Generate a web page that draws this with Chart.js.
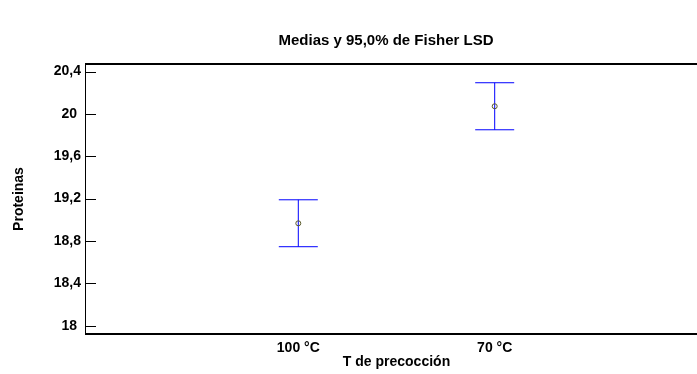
<!DOCTYPE html>
<html>
<head>
<meta charset="utf-8">
<script src="https://cdn.jsdelivr.net/npm/chart.js@4.4.1/dist/chart.umd.min.js"></script>
<style>
  html, body { margin: 0; padding: 0; background: #fff; overflow: hidden; }
  #wrap { width: 720px; height: 374px; }
</style>
</head>
<body>
<div id="wrap"><canvas id="c" width="720" height="374"></canvas></div>
<script>
// Group means with 95% Fisher LSD intervals
const groups = ['100 °C', '70 °C'];
const means = [18.967, 20.072];
const lower = [18.746, 19.850];
const upper = [19.189, 20.294];
const yTicks = [18, 18.4, 18.8, 19.2, 19.6, 20, 20.4];
const yTickLabels = ['18', '18,4', '18,8', '19,2', '19,6', '20', '20,4'];

const titleText = 'Medias y 95,0% de Fisher LSD';
const xTitle = 'T de precocción';
const yTitle = 'Proteinas';

const FONT = '"Liberation Sans", Arial, Helvetica, sans-serif';
const AXIS_SIZE = 14;

// Interval bars: vertical line plus horizontal caps, placed through the scales
const intervalBars = {
  id: 'intervalBars',
  beforeDatasetsDraw(chart) {
    const { ctx, scales: { x, y } } = chart;
    ctx.save();
    ctx.strokeStyle = '#0000ff';
    ctx.lineWidth = 1;
    const half = 19.5;
    groups.forEach((g, i) => {
      const px = x.getPixelForValue(i + 1);
      const top = y.getPixelForValue(upper[i]);
      const bot = y.getPixelForValue(lower[i]);
      ctx.beginPath();
      ctx.moveTo(px, top);
      ctx.lineTo(px, bot);
      ctx.moveTo(px - half, top);
      ctx.lineTo(px + half, top);
      ctx.moveTo(px - half, bot);
      ctx.lineTo(px + half, bot);
      ctx.stroke();
    });
    ctx.restore();
  }
};

// Plot frame with inward tick marks on both vertical sides, plus the title
const frame = {
  id: 'frame',
  afterDraw(chart) {
    const { ctx, chartArea: a, scales: { y } } = chart;
    ctx.save();
    ctx.strokeStyle = '#000';
    ctx.lineWidth = 2;
    ctx.beginPath();
    ctx.moveTo(a.left, a.top);
    ctx.lineTo(a.right, a.top);
    ctx.moveTo(a.left, a.bottom);
    ctx.lineTo(a.right, a.bottom);
    ctx.stroke();
    ctx.lineWidth = 1;
    ctx.beginPath();
    ctx.moveTo(a.left + 0.5, a.top);
    ctx.lineTo(a.left + 0.5, a.bottom);
    ctx.moveTo(a.right - 0.5, a.top);
    ctx.lineTo(a.right - 0.5, a.bottom);
    yTicks.forEach(v => {
      const py = Math.round(y.getPixelForValue(v)) + 0.5;
      ctx.moveTo(a.left, py);
      ctx.lineTo(a.left + 11, py);
      ctx.moveTo(a.right, py);
      ctx.lineTo(a.right - 11, py);
    });
    ctx.stroke();

    ctx.fillStyle = '#000';
    ctx.font = 'bold 15px ' + FONT;
    ctx.textAlign = 'center';
    ctx.textBaseline = 'middle';
    ctx.fillText(titleText, 386, 41);
    ctx.restore();
  }
};

new Chart(document.getElementById('c'), {
  type: 'scatter',
  data: {
    datasets: [{
      data: means.map((m, i) => ({ x: i + 1, y: m })),
      pointStyle: 'circle',
      pointRadius: 2.5,
      borderWidth: 1,
      borderColor: '#5a5a2a',
      backgroundColor: 'rgba(0,0,0,0)',
      showLine: false
    }]
  },
  options: {
    responsive: false,
    animation: false,
    layout: { padding: { top: 64, right: 12, left: 0, bottom: 0 } },
    plugins: {
      legend: { display: false },
      tooltip: { enabled: false },
      title: { display: false }
    },
    scales: {
      x: {
        type: 'linear',
        min: -0.086,
        max: 3.086,
        afterBuildTicks(scale) {
          scale.ticks = groups.map((g, i) => ({ value: i + 1 }));
        },
        afterFit(scale) { scale.height = 40; },
        grid: { display: false, drawTicks: false },
        border: { display: false },
        ticks: {
          padding: 6,
          color: '#000',
          font: { family: FONT, size: AXIS_SIZE, weight: 'bold' },
          callback: (v) => groups[Math.round(v) - 1] || ''
        },
        title: {
          display: true,
          text: xTitle,
          color: '#000',
          font: { family: FONT, size: AXIS_SIZE, weight: 'bold' },
          padding: { top: 0, bottom: 3 }
        }
      },
      y: {
        min: 17.922,
        max: 20.471,
        afterBuildTicks(scale) {
          scale.ticks = yTicks.map(v => ({ value: v }));
        },
        afterFit(scale) { scale.width = 85; },
        grid: { display: false, drawTicks: false },
        border: { display: false },
        ticks: {
          padding: 4,
          color: '#000',
          font: { family: FONT, size: AXIS_SIZE, weight: 'bold' },
          // whole numbers keep the comma's width so digits line up
          callback: (v) => {
            const k = yTicks.findIndex(t => Math.abs(t - v) < 1e-6);
            if (k < 0) return '';
            const s = yTickLabels[k];
            return s.includes(',') ? s : s + '\u2008';
          }
        },
        title: {
          display: true,
          text: yTitle,
          color: '#000',
          font: { family: FONT, size: AXIS_SIZE, weight: 'bold' },
          padding: { top: 11, bottom: 0 }
        }
      }
    }
  },
  plugins: [intervalBars, frame]
});
</script>
</body>
</html>
